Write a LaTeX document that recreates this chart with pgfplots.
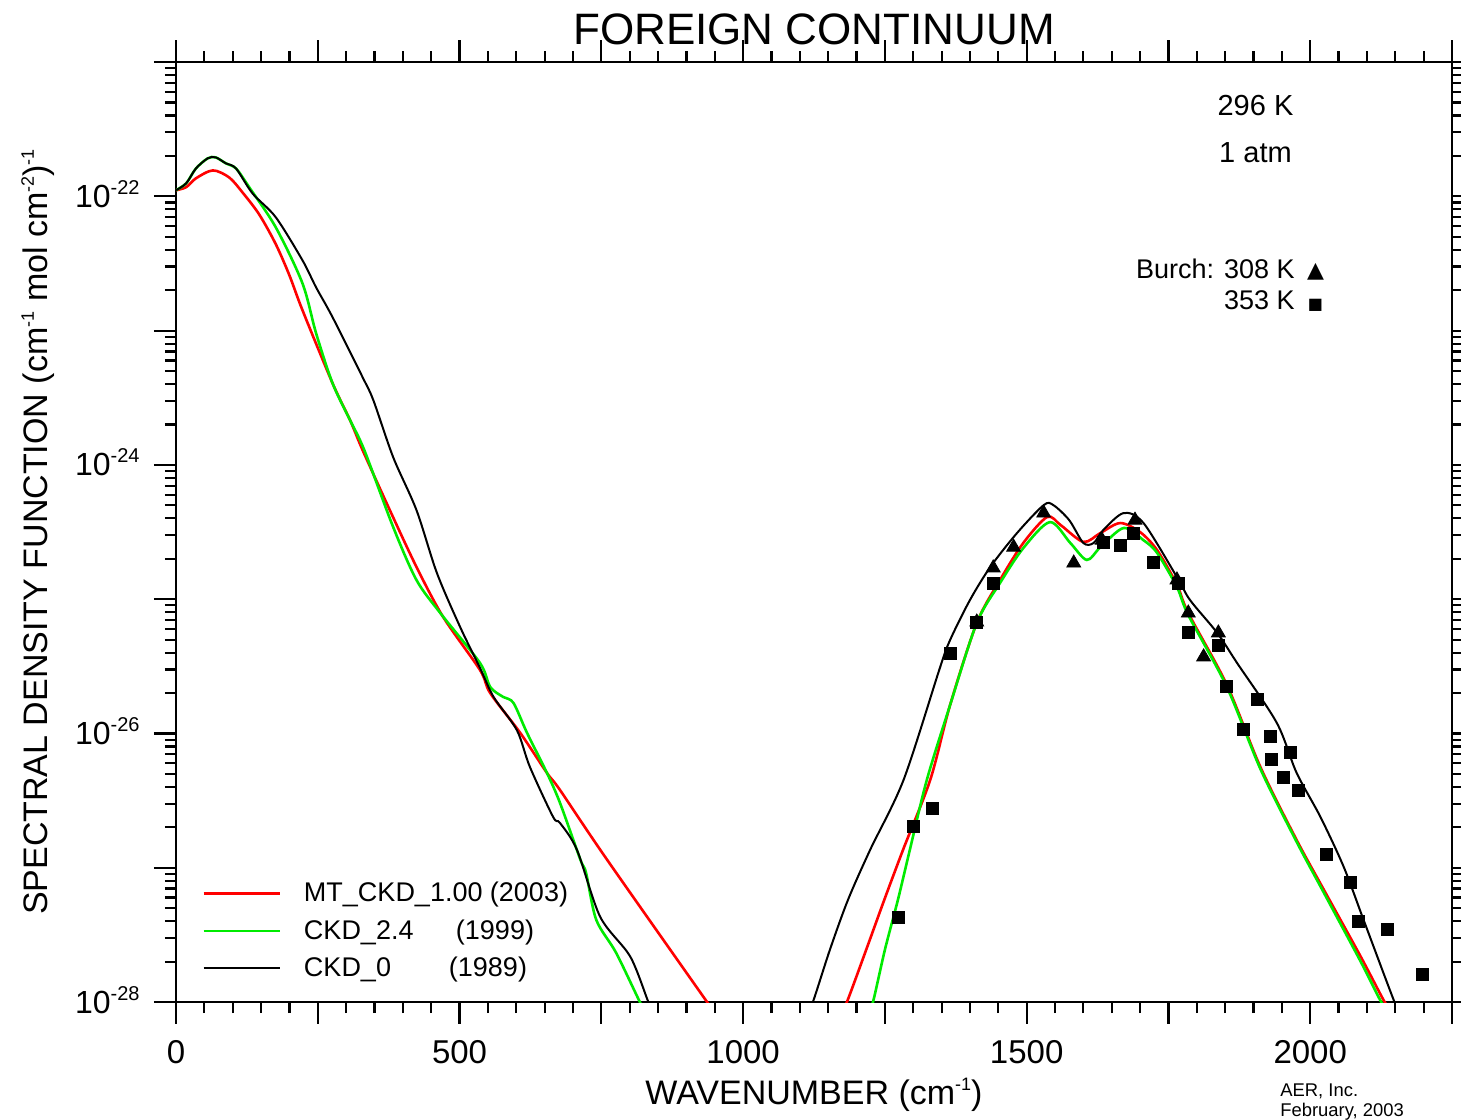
\documentclass[border=0pt]{standalone}
\usepackage{fontspec}
\setmainfont{Liberation Sans}
\newfontfamily\dejavu{DejaVu Sans}
\usepackage{pgfplots}
\usetikzlibrary{calc}
\pgfplotsset{compat=1.18}
\newcommand\sups[1]{\raisebox{6.5pt}{\fontsize{10}{12}\selectfont #1}}
\newcommand\lsup[1]{\raisebox{7pt}{\fontsize{9}{10}\selectfont #1}}
\definecolor{cred}{RGB}{255,0,0}
\definecolor{cgreen}{RGB}{0,235,0}
\begin{document}
\begin{tikzpicture}
\begin{axis}[
  scale only axis, width=638pt, height=470pt, clip mode=individual,
  xmin=0, xmax=2250, ymode=log, ymin=1e-28, ymax=1e-21,
  axis line style={line width=1.4pt},
  tick align=outside, tick pos=both,
  major tick length=11pt, minor tick length=5.5pt,
  every tick/.style={black, line width=1.1pt},
  xtick={0,250,...,2250},
  xticklabels={0,,500,,1000,,1500,,2000,},
  minor x tick num=4,
  ytick={1e-28,1e-27,1e-26,1e-25,1e-24,1e-23,1e-22,1e-21},
  yticklabels={10\sups{-28},,10\sups{-26},,10\sups{-24},,10\sups{-22},},
  minor ytick={2e-28,3e-28,4e-28,5e-28,6e-28,7e-28,8e-28,9e-28,
               2e-27,3e-27,4e-27,5e-27,6e-27,7e-27,8e-27,9e-27,
               2e-26,3e-26,4e-26,5e-26,6e-26,7e-26,8e-26,9e-26,
               2e-25,3e-25,4e-25,5e-25,6e-25,7e-25,8e-25,9e-25,
               2e-24,3e-24,4e-24,5e-24,6e-24,7e-24,8e-24,9e-24,
               2e-23,3e-23,4e-23,5e-23,6e-23,7e-23,8e-23,9e-23,
               2e-22,3e-22,4e-22,5e-22,6e-22,7e-22,8e-22,9e-22},
  xticklabel style={font=\fontsize{16.5}{19}\selectfont, inner sep=0pt, anchor=north},
  xticklabel shift=8pt,
  yticklabel style={font=\fontsize{16}{19}\selectfont, inner sep=0pt, anchor=base east, yshift=-5.5pt},
  yticklabel shift=7pt,
  legend style={draw=none, fill=none, at={(axis description cs:0,0)}, anchor=south west,
    xshift=10pt, yshift=9pt, row sep=7.5pt, column sep=11.5pt,
    font=\fontsize{13.5}{16}\selectfont, nodes={inner sep=0pt}},
  legend cell align=left,
  legend image code/.code={\draw[#1] (0pt,0pt) -- (38pt,0pt);},
]
\addplot[cred, line width=1.3pt, smooth, tension=0.5] coordinates {
(0,1.11e-22) (18,1.17e-22) (35,1.36e-22) (65,1.56e-22) (94,1.38e-22) (118,1.06e-22)
(147,7.3e-23) (176,4.4e-23) (200,2.58e-23) (223,1.42e-23) (276,4.06e-24) (307,2.15e-24) (329,1.29e-24)
(377,4.61e-25) (424,1.74e-25) (471,7.38e-26) (536,2.97e-26) (554,2.00e-26) (607,1.01e-26)
(654,5.09e-27) (677,3.80e-27) (760,1.15e-27) (950,8.3e-29)
};
\addlegendentry{\makebox[93pt][l]{MT\_CKD\_1.00}(2003)}
\addplot[cgreen, line width=1.3pt, smooth, tension=0.5] coordinates {
(0,1.11e-22) (18,1.25e-22) (35,1.61e-22) (56,1.92e-22) (70,1.95e-22) (88,1.76e-22)
(106,1.61e-22) (129,1.17e-22) (176,5.87e-23) (223,2.25e-23) (247,9.57e-24) (276,4.06e-24)
(307,2.15e-24) (332,1.29e-24) (383,3.44e-25) (424,1.39e-25) (466,7.89e-26) (536,3.35e-26)
(554,2.22e-26) (577,1.87e-26) (595,1.69e-26) (619,1.01e-26) (654,5.09e-27) (677,3.05e-27)
(713,1.15e-27) (723,9.18e-28) (741,4.10e-28) (776,2.33e-28) (818,1.0e-28) (825,9e-29)
};
\addlegendentry{\makebox[76pt][l]{CKD\_2.4}(1999)}
\addplot[black, line width=1pt, smooth, tension=0.5] coordinates {
(0,1.11e-22) (18,1.25e-22) (35,1.61e-22) (56,1.92e-22) (70,1.95e-22) (88,1.76e-22)
(106,1.61e-22) (135,1.05e-22) (176,6.98e-23) (223,3.34e-23) (247,2.1e-23) (276,1.26e-23)
(329,4.50e-24) (348,3.03e-24) (383,1.14e-24) (424,4.61e-25) (460,1.57e-25) (501,6.21e-26)
(536,3.08e-26) (560,1.87e-26) (601,1.06e-26) (624,5.64e-27) (665,2.39e-27) (677,2.16e-27)
(707,1.36e-27) (748,4.31e-28) (801,2.18e-28) (833,1.0e-28) (840,9e-29)
};
\addlegendentry{\makebox[72.5pt][l]{CKD\_0}(1989)}
% right band
\addplot[cred, line width=1.3pt, smooth, tension=0.5, forget plot] coordinates {
(1175,9e-29) (1183,1.0e-28) (1217,2.45e-28) (1249,5.78e-28) (1282,1.36e-27) (1330,4.52e-27)
(1365,1.63e-26) (1412,6.65e-26) (1453,1.39e-25) (1494,2.62e-25) (1536,4.09e-25) (1560,3.56e-25)
(1600,2.67e-25) (1630,3.11e-25) (1665,3.69e-25) (1700,3.16e-25) (1730,2.32e-25) (1765,1.28e-25)
(1785,7.89e-26) (1853,2.30e-26) (1912,5.64e-27) (1976,1.61e-27) (2024,6.86e-28) (2089,2.18e-28)
(2129,1.04e-28) (2140,9e-29)
};
\addplot[cgreen, line width=1.3pt, smooth, tension=0.5, forget plot] coordinates {
(1222,9e-29) (1229,1.0e-28) (1250,2.45e-28) (1273,5.78e-28) (1294,1.36e-27) (1324,4.52e-27)
(1365,1.63e-26) (1412,6.65e-26) (1453,1.32e-25) (1494,2.40e-25) (1541,3.75e-25) (1577,2.62e-25)
(1606,1.96e-25) (1630,2.44e-25) (1671,3.39e-25) (1706,2.75e-25) (1730,2.21e-25) (1765,1.23e-25)
(1785,7.62e-26) (1853,2.22e-26) (1912,5.46e-27) (1976,1.56e-27) (2024,6.52e-28) (2089,2.0e-28)
(2123,1.04e-28) (2133,9e-29)
};
\addplot[black, line width=1pt, smooth, tension=0.5, forget plot] coordinates {
(1115,9e-29) (1123,1.0e-28) (1153,2.45e-28) (1185,5.78e-28) (1224,1.36e-27) (1283,4.52e-27)
(1347,3.08e-26) (1365,4.97e-26) (1400,9.86e-26) (1436,1.74e-25) (1483,3.11e-25) (1530,5.02e-25)
(1547,5.02e-25) (1575,3.88e-25) (1600,2.62e-25) (1618,2.62e-25) (1635,3.27e-25) (1671,4.38e-25)
(1706,3.69e-25) (1765,1.46e-25) (1788,9.86e-26) (1836,5.61e-26) (1871,3.35e-26) (1941,1.20e-26)
(1976,5.09e-27) (2018,2.39e-27) (2059,1.016e-27) (2094,4.10e-28) (2147,1.04e-28) (2155,9e-29)
};
% Burch 308 K
\addplot[only marks, mark=triangle*, mark size=4pt, black, forget plot] coordinates {
(1412,6.76e-26) (1441,1.71e-25) (1477,2.44e-25) (1530,4.38e-25) (1583,1.86e-25) (1633,2.75e-25)
(1691,3.88e-25) (1765,1.39e-25) (1785,7.89e-26) (1812,3.72e-26) (1838,5.61e-26)
};
% Burch 353 K
\addplot[only marks, mark=square*, mark size=3pt, black, forget plot] coordinates {
(1273,4.25e-28) (1300,2.05e-27) (1333,2.79e-27) (1365,3.98e-26) (1412,6.76e-26) (1441,1.32e-25)
(1635,2.67e-25) (1665,2.53e-25) (1688,3.11e-25) (1724,1.89e-25) (1768,1.32e-25) (1785,5.70e-26)
(1838,4.56e-26) (1853,2.26e-26) (1882,1.08e-26) (1906,1.78e-26) (1929,9.44e-27) (1932,6.37e-27)
(1953,4.68e-27) (1965,7.29e-27) (1979,3.80e-27) (2029,1.25e-27) (2070,7.73e-28) (2085,3.96e-28)
(2136,3.46e-28) (2197,1.60e-28)
};
\coordinate (bbSW) at (axis description cs:0,0);
\coordinate (bbNE) at (axis description cs:1,1);
\node[anchor=base, font=\fontsize{14.5}{17}\selectfont] at (axis description cs:0.846,0.943) {296 K};
\node[anchor=base, font=\fontsize{14.5}{17}\selectfont] at (axis description cs:0.846,0.8936) {1 atm};
\node[anchor=base east, inner sep=0pt, font=\fontsize{13.5}{16}\selectfont] at (axis description cs:0.877,0.770) {Burch: 308 K};
\node[anchor=base east, inner sep=0pt, font=\fontsize{13.5}{16}\selectfont] at (axis description cs:0.877,0.737) {353 K};
\node[anchor=base, inner sep=0pt, font=\fontsize{11}{13}\selectfont] at (axis description cs:0.893,0.771) {\dejavu ▲};
\node[anchor=base, inner sep=0pt, font=\fontsize{8}{10}\selectfont] at (axis description cs:0.893,0.737) {\dejavu ■};
\end{axis}
\node[anchor=base, font=\fontsize{22}{26}\selectfont] at ([yshift=8.5pt]$(bbSW|-bbNE)!0.5!(bbNE)$) {FOREIGN CONTINUUM};
\node[anchor=base, font=\fontsize{17}{20}\selectfont] at ([yshift=-51pt]$(bbSW)!0.5!(bbSW-|bbNE)$) {WAVENUMBER (cm\lsup{-1})};
\node[anchor=base, rotate=90, font=\fontsize{17}{20}\selectfont] at ([xshift=-64pt]$(bbSW)!0.5!(bbSW|-bbNE)$) {SPECTRAL DENSITY FUNCTION (cm\lsup{-1} mol cm\lsup{-2})\lsup{-1}};
\node[anchor=base west, inner sep=0pt, font=\fontsize{9.2}{11}\selectfont] at ([xshift=552pt,yshift=-47pt]bbSW) {AER, Inc.};
\node[anchor=base west, inner sep=0pt, font=\fontsize{9.2}{11}\selectfont] at ([xshift=552pt,yshift=-57pt]bbSW) {February, 2003};
\pgfresetboundingbox
\path[use as bounding box] ([xshift=-88pt,yshift=-58.5pt]bbSW) rectangle ([xshift=4.5pt,yshift=31pt]bbNE);
\end{tikzpicture}
\end{document}
